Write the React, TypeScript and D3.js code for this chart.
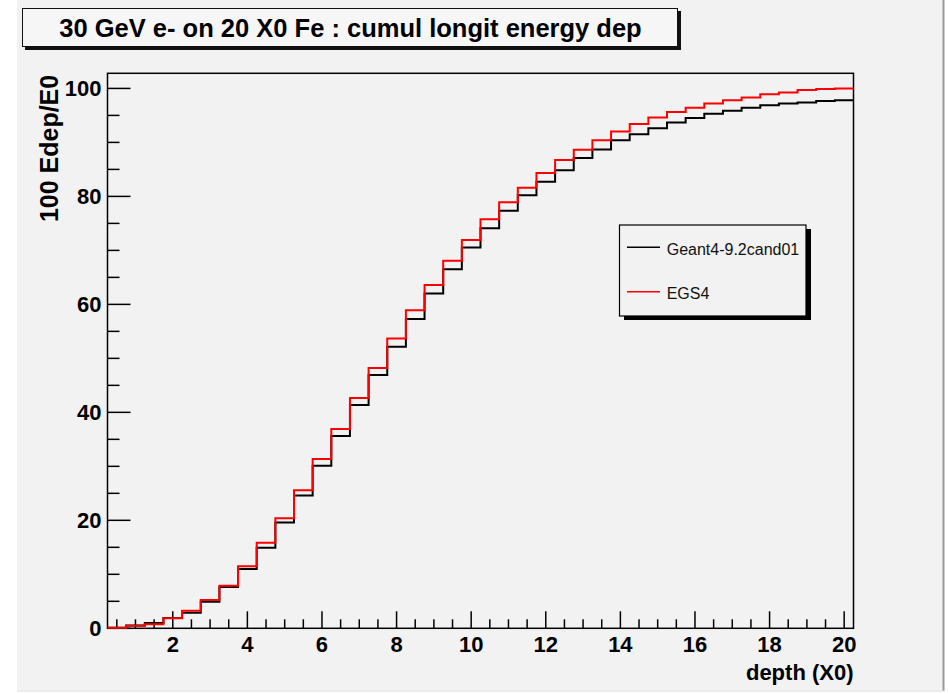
import React from "react";
import * as d3 from "d3";

const binLow = 0.25;
const binWidth = 0.5;
const seriesNames = ["Geant4-9.2cand01", "EGS4"];
const geant4 = [
  0.1, 0.5, 1.0, 1.9, 2.9, 4.9, 7.65, 11.0, 14.9, 19.6,
  24.6, 30.1, 35.6, 41.35, 46.9, 52.15, 57.3, 62.0, 66.5, 70.55,
  74.1, 77.35, 80.2, 82.7, 84.85, 87.1, 88.7, 90.4, 91.5, 92.6,
  93.7, 94.5, 95.3, 95.85, 96.4, 96.9, 97.2, 97.4, 97.65, 97.8,
];
const egs4 = [
  0.1, 0.45, 0.75, 1.85, 3.25, 5.25, 7.9, 11.5, 15.85, 20.4,
  25.55, 31.35, 36.9, 42.65, 48.2, 53.7, 58.9, 63.6, 68.1, 71.9,
  75.75, 78.9, 81.6, 84.35, 86.75, 88.65, 90.4, 92.0, 93.4, 94.6,
  95.65, 96.4, 97.2, 97.8, 98.3, 98.9, 99.25, 99.7, 99.9, 100.0,
];
const xMajorTicks = [2, 4, 6, 8, 10, 12, 14, 16, 18, 20];
const yMajorTicks = [0, 20, 40, 60, 80, 100];
const title = "30 GeV e- on 20 X0 Fe : cumul longit energy dep";
const xTitle = "depth (X0)";
const yTitle = "100 Edep/E0";

const W = 948;
const H = 694;
const L = 107.5, R = 853.5, T = 73.3, B = 628.3;
const FONT = "'Liberation Sans', Arial, Helvetica, sans-serif";
const BG = "#f2f2f2";

export default function App() {
  const nb = geant4.length;
  const x = d3.scaleLinear().domain([binLow, binLow + nb * binWidth]).range([L, R]);
  const y = d3.scaleLinear().domain([0, 102.8]).range([B, T]);

  const stepPath = (vals: number[]) => {
    const pts: [number, number][] = vals.map((v, i) => [binLow + i * binWidth, v]);
    pts.push([binLow + nb * binWidth, vals[vals.length - 1]]);
    return d3
      .line<[number, number]>()
      .x((d) => x(d[0]))
      .y((d) => y(d[1]))
      .curve(d3.curveStepAfter)(pts) as string;
  };

  const xMinor: number[] = [];
  for (let v = 0.5; v <= 20.25; v += 0.5) if (!xMajorTicks.includes(v)) xMinor.push(v);
  const yMinor: number[] = [];
  for (let v = 5; v <= 100; v += 5) if (!yMajorTicks.includes(v)) yMinor.push(v);

  return (
    <svg
      width={W}
      height={H}
      style={{ position: "absolute", left: 0, top: 0, background: "#ffffff" }}
    >
      <rect x={17} y={0} width={926} height={690} fill={BG} />
      <line x1={943.5} y1={0} x2={943.5} y2={691} stroke="#9a9a9a" strokeWidth={2} />
      <line x1={17} y1={691} x2={944} y2={691} stroke="#d8d8d8" strokeWidth={1} />

      {/* title box */}
      <rect x={25} y={11} width={656} height={39} fill="#111" />
      <rect x={22.5} y={8.5} width={655} height={38} fill="#f6f6f6" stroke="#111" strokeWidth={1} />
      <text
        x={350.5}
        y={36.5}
        textAnchor="middle"
        fontFamily={FONT}
        fontWeight="bold"
        fontSize={25.5}
        fill="#000"
      >
        {title}
      </text>

      {/* frame */}
      <rect x={L} y={T} width={R - L} height={B - T} fill={BG} stroke="#000" strokeWidth={1.5} />

      {/* y axis ticks */}
      {yMajorTicks.map((v) => (
        <g key={"ym" + v}>
          <line x1={L} x2={L + 23} y1={y(v)} y2={y(v)} stroke="#000" strokeWidth={1.5} />
          <text
            x={101.5}
            y={y(v) + 8}
            textAnchor="end"
            fontFamily={FONT}
            fontWeight="bold"
            fontSize={22}
          >
            {v}
          </text>
        </g>
      ))}
      {yMinor.map((v) => (
        <line key={"yn" + v} x1={L} x2={L + 12} y1={y(v)} y2={y(v)} stroke="#000" strokeWidth={1.5} />
      ))}

      {/* x axis ticks */}
      {xMajorTicks.map((v) => (
        <g key={"xm" + v}>
          <line x1={x(v)} x2={x(v)} y1={B} y2={B - 17} stroke="#000" strokeWidth={1.5} />
          <text
            x={x(v)}
            y={651.5}
            textAnchor="middle"
            fontFamily={FONT}
            fontWeight="bold"
            fontSize={22}
          >
            {v}
          </text>
        </g>
      ))}
      {xMinor.map((v) => (
        <line key={"xn" + v} x1={x(v)} x2={x(v)} y1={B} y2={B - 9} stroke="#000" strokeWidth={1.5} />
      ))}

      {/* axis titles */}
      <text
        x={R}
        y={680}
        textAnchor="end"
        fontFamily={FONT}
        fontWeight="bold"
        fontSize={22}
      >
        {xTitle}
      </text>
      <text
        transform={`translate(57.5, ${T + 1.5}) rotate(-90)`}
        textAnchor="end"
        fontFamily={FONT}
        fontWeight="bold"
        fontSize={25}
      >
        {yTitle}
      </text>

      {/* histograms */}
      <path d={stepPath(geant4)} fill="none" stroke="#000" strokeWidth={2} />
      <path d={stepPath(egs4)} fill="none" stroke="#ff0000" strokeWidth={2} />

      {/* legend */}
      <rect x={624} y={229} width={187} height={91} fill="#000" />
      <rect x={619.5} y={225} width={186.5} height={91} fill={BG} stroke="#000" strokeWidth={1.2} />
      {seriesNames.map((name, i) => (
        <g key={name}>
          <line
            x1={627}
            x2={660}
            y1={247.3 + i * 44.4}
            y2={247.3 + i * 44.4}
            stroke={i === 0 ? "#000" : "#ff0000"}
            strokeWidth={1.5}
          />
          <text
            x={666.7}
            y={254.5 + i * 44.4}
            fontFamily={FONT}
            fontSize={16}
            fill="#111"
          >
            {name}
          </text>
        </g>
      ))}
    </svg>
  );
}
